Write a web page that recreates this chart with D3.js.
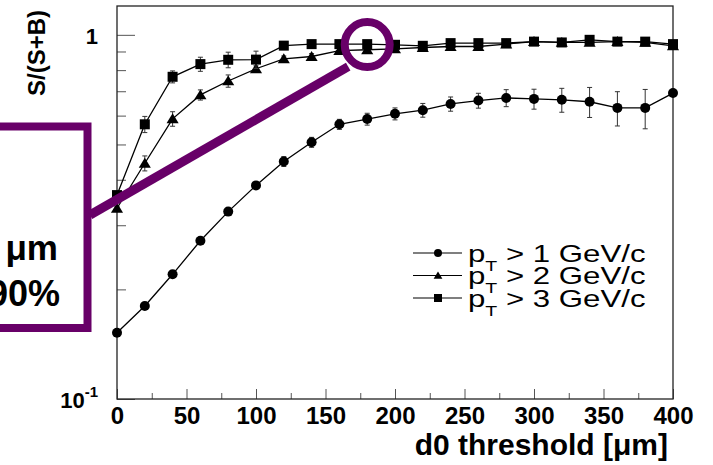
<!DOCTYPE html>
<html>
<head>
<meta charset="utf-8">
<script src="https://cdn.jsdelivr.net/npm/d3@7"></script>
<style>
  body { margin: 0; background: #fff; }
  svg { display: block; }
  text { font-family: "Liberation Sans", Arial, Helvetica, sans-serif; fill: #000; }
</style>
</head>
<body>
<svg id="chart"></svg>
<script>
// d0 threshold scan, purity S/(S+B) for three pT cuts
const thresholds = [0, 20, 40, 60, 80, 100, 120, 140, 160, 180, 200, 220, 240, 260, 280, 300, 320, 340, 360, 380, 400];

const pt1Purity = [0.152, 0.180, 0.220, 0.272, 0.327, 0.386, 0.449, 0.507, 0.568, 0.587, 0.607, 0.621, 0.646, 0.660, 0.671, 0.667, 0.663, 0.655, 0.630, 0.630, 0.692];
const pt1Error  = [0.001, 0.001, 0.002, 0.003, 0.004, 0.007, 0.014, 0.016, 0.018, 0.022, 0.023, 0.027, 0.029, 0.031, 0.036, 0.042, 0.050, 0.062, 0.068, 0.078, 0.009];

const pt2Purity = [0.334, 0.444, 0.588, 0.684, 0.747, 0.807, 0.859, 0.872, 0.905, 0.910, 0.915, 0.923, 0.929, 0.929, 0.943, 0.958, 0.953, 0.953, 0.958, 0.953, 0.933];
const pt2Error  = [0.004, 0.021, 0.027, 0.022, 0.029, 0.015, 0.016, 0.016, 0.017, 0.017, 0.017, 0.017, 0.017, 0.017, 0.018, 0.018, 0.018, 0.018, 0.018, 0.018, 0.018];

const pt3Purity = [0.363, 0.568, 0.767, 0.831, 0.854, 0.855, 0.934, 0.943, 0.943, 0.943, 0.939, 0.933, 0.949, 0.949, 0.949, 0.958, 0.953, 0.969, 0.958, 0.958, 0.943];
const pt3Error  = [0.005, 0.029, 0.029, 0.037, 0.042, 0.047, 0.018, 0.018, 0.018, 0.018, 0.018, 0.018, 0.018, 0.018, 0.018, 0.018, 0.018, 0.025, 0.018, 0.018, 0.018];

const ptCuts = ["1", "2", "3"];
const markerShapes = ["circle", "triangle", "square"];

const xTickValues = [0, 50, 100, 150, 200, 250, 300, 350, 400];
const xMinorTicks = [25, 75, 125, 175, 225, 275, 325, 375];
const yTickValues = [0.1, 1];
const yMinorTicks = [0.2, 0.3, 0.4, 0.5, 0.6, 0.7, 0.8, 0.9];

// the point singled out by the purple annotation
const highlightThreshold = 180;
const highlightPurity = 0.94;

class PurityPlot {
  constructor(_config, _series) {
    this.config = {
      parentElement: _config.parentElement,
      containerWidth: 713,
      containerHeight: 465,
      margin: { top: 6, right: 40, bottom: 66, left: 117 },
      markerSize: 10,
      annotColor: '#680068'
    };
    this.series = _series;
    this.initVis();
  }

  initVis() {
    let vis = this;

    vis.svg = d3.select(vis.config.parentElement)
        .attr('width', vis.config.containerWidth)
        .attr('height', vis.config.containerHeight);

    vis.width = vis.config.containerWidth - vis.config.margin.left - vis.config.margin.right;
    vis.height = vis.config.containerHeight - vis.config.margin.top - vis.config.margin.bottom;

    vis.chartArea = vis.svg.append('g')
        .attr('transform', `translate(${vis.config.margin.left},${vis.config.margin.top})`);

    vis.xScale = d3.scaleLinear()
        .domain([0, 400])
        .range([0, vis.width]);

    vis.yScale = d3.scaleLog()
        .domain([0.1, 1.2])
        .range([vis.height, 0]);

    // ticks point inwards, ROOT style
    vis.xAxis = d3.axisBottom(vis.xScale)
        .tickValues(xTickValues)
        .tickSize(-10)
        .tickPadding(8)
        .tickFormat(d3.format('d'));
    vis.xMinorAxis = d3.axisBottom(vis.xScale)
        .tickValues(xMinorTicks)
        .tickSize(-6)
        .tickFormat('');

    vis.yAxis = d3.axisLeft(vis.yScale)
        .tickValues(yTickValues)
        .tickSize(-18)
        .tickPadding(19)
        .tickFormat(d => d === 1 ? '1' : '10');
    vis.yMinorAxis = d3.axisLeft(vis.yScale)
        .tickValues(yMinorTicks)
        .tickSize(-9)
        .tickFormat('');

    vis.xAxisG = vis.chartArea.append('g')
        .attr('class', 'axis x-axis')
        .attr('transform', `translate(0,${vis.height})`);
    vis.xMinorG = vis.chartArea.append('g')
        .attr('class', 'axis x-minor')
        .attr('transform', `translate(0,${vis.height})`);
    vis.yAxisG = vis.chartArea.append('g')
        .attr('class', 'axis y-axis');
    vis.yMinorG = vis.chartArea.append('g')
        .attr('class', 'axis y-minor');

    vis.line = d3.line()
        .x(d => vis.xScale(d.x))
        .y(d => vis.yScale(d.y));

    vis.renderVis();
  }

  marker(sel, shape, size) {
    if (shape === 'circle') {
      sel.append('circle').attr('r', size / 2);
    } else if (shape === 'square') {
      sel.append('rect')
          .attr('x', -size / 2).attr('y', -size / 2)
          .attr('width', size).attr('height', size);
    } else {
      sel.append('path')
          .attr('d', `M0,${-size * 0.5}L${size * 0.55},${size * 0.4}L${-size * 0.55},${size * 0.4}Z`);
    }
  }

  renderVis() {
    let vis = this;

    vis.xAxisG.call(vis.xAxis);
    vis.xMinorG.call(vis.xMinorAxis);
    vis.yAxisG.call(vis.yAxis);
    vis.yMinorG.call(vis.yMinorAxis);

    vis.chartArea.selectAll('.axis .domain').remove();
    vis.chartArea.selectAll('.axis line')
        .attr('stroke', '#555')
        .attr('stroke-width', 1);

    vis.xAxisG.selectAll('text')
        .style('font-size', '24px')
        .style('font-weight', 'bold');

    vis.yAxisG.selectAll('text')
        .attr('dy', '0.4em')
        .style('font-size', '22px')
        .style('font-weight', 'bold');
    vis.yAxisG.selectAll('.tick')
        .filter(d => d === 0.1)
        .select('text')
        .append('tspan')
        .attr('dy', '-0.75em')
        .style('font-size', '15px')
        .text('-1');

    // frame
    vis.chartArea.append('rect')
        .attr('width', vis.width)
        .attr('height', vis.height)
        .attr('fill', 'none')
        .attr('stroke', '#222')
        .attr('stroke-width', 1.3);

    // series
    const groups = vis.chartArea.selectAll('.series')
        .data(vis.series)
        .join('g')
        .attr('class', 'series');

    groups.append('path')
        .attr('d', d => vis.line(d.points))
        .attr('fill', 'none')
        .attr('stroke', '#000')
        .attr('stroke-width', 1.3);

    const bars = groups.selectAll('.err')
        .data(d => d.points)
        .join('g')
        .attr('class', 'err')
        .attr('stroke', '#333')
        .attr('stroke-width', 1);
    bars.append('line')
        .attr('x1', d => vis.xScale(d.x)).attr('x2', d => vis.xScale(d.x))
        .attr('y1', d => vis.yScale(d.y + d.e)).attr('y2', d => vis.yScale(d.y - d.e));
    bars.append('line')
        .attr('x1', d => vis.xScale(d.x) - 2.5).attr('x2', d => vis.xScale(d.x) + 2.5)
        .attr('y1', d => vis.yScale(d.y + d.e)).attr('y2', d => vis.yScale(d.y + d.e));
    bars.append('line')
        .attr('x1', d => vis.xScale(d.x) - 2.5).attr('x2', d => vis.xScale(d.x) + 2.5)
        .attr('y1', d => vis.yScale(d.y - d.e)).attr('y2', d => vis.yScale(d.y - d.e));

    groups.each(function(s) {
      d3.select(this).selectAll('.pt')
          .data(s.points)
          .join('g')
          .attr('class', 'pt')
          .attr('transform', d => `translate(${vis.xScale(d.x)},${vis.yScale(d.y)})`)
          .attr('fill', '#000')
          .each(function() { vis.marker(d3.select(this), s.shape, s.shape === 'triangle' ? 11 : vis.config.markerSize); });
    });

    // legend
    const legend = vis.svg.append('g')
        .attr('transform', 'translate(413,253)');
    const rows = legend.selectAll('.row')
        .data(vis.series)
        .join('g')
        .attr('class', 'row')
        .attr('transform', (d, i) => `translate(0,${i * 22.5})`);
    rows.append('line')
        .attr('x1', 0).attr('x2', 49)
        .attr('stroke', '#000').attr('stroke-width', 1.2);
    rows.append('g')
        .attr('transform', 'translate(25,0)')
        .attr('fill', '#000')
        .each(function(d) { vis.marker(d3.select(this), d.shape, 8); });
    const label = rows.append('text')
        .attr('transform', 'translate(55,8.5) scale(1.3,1)')
        .style('font-size', '24px');
    label.append('tspan').text('p');
    label.append('tspan').attr('dy', 9).style('font-size', '15px').text('T');
    label.append('tspan').attr('dy', -9).text(d => ` > ${d.cut} GeV/c`);

    // axis titles
    vis.svg.append('text')
        .attr('x', 668).attr('y', 455)
        .attr('text-anchor', 'end')
        .style('font-size', '30px')
        .style('font-weight', 'bold')
        .text('d0 threshold [\u03bcm]');

    vis.svg.append('text')
        .attr('transform', 'translate(45,10) rotate(-90)')
        .attr('text-anchor', 'end')
        .style('font-size', '24px')
        .style('font-weight', 'bold')
        .text('S/(S+B)');

    // purple annotation on top
    const annot = vis.svg.append('g')
        .attr('stroke', vis.config.annotColor)
        .attr('fill', 'none');
    const cx = vis.config.margin.left + vis.xScale(highlightThreshold);
    const cy = vis.config.margin.top + vis.yScale(highlightPurity);
    annot.append('rect')
        .attr('x', -300).attr('y', 126.5)
        .attr('width', 387.5).attr('height', 201.5)
        .attr('stroke-width', 8);
    annot.append('line')
        .attr('x1', 90).attr('y1', 215)
        .attr('x2', cx - 19).attr('y2', cy + 22)
        .attr('stroke-width', 9);
    annot.append('circle')
        .attr('cx', cx).attr('cy', cy)
        .attr('r', 22.5)
        .attr('stroke-width', 8);

    // visible ends of the annotation text, the rest runs off the left edge
    vis.svg.append('text')
        .attr('x', 58).attr('y', 260)
        .attr('text-anchor', 'end')
        .style('font-size', '35px')
        .style('font-weight', 'bold')
        .text('\u03bcm');
    vis.svg.append('text')
        .attr('x', 60).attr('y', 306)
        .attr('text-anchor', 'end')
        .style('font-size', '36px')
        .style('font-weight', 'bold')
        .text('90%');
  }
}

const toPoints = (vals, errs) => thresholds.map((t, i) => ({ x: t, y: vals[i], e: errs[i] }));

const series = [
  { cut: ptCuts[0], shape: markerShapes[0], points: toPoints(pt1Purity, pt1Error) },
  { cut: ptCuts[1], shape: markerShapes[1], points: toPoints(pt2Purity, pt2Error) },
  { cut: ptCuts[2], shape: markerShapes[2], points: toPoints(pt3Purity, pt3Error) }
];

const plot = new PurityPlot({ parentElement: '#chart' }, series);
</script>
</body>
</html>
